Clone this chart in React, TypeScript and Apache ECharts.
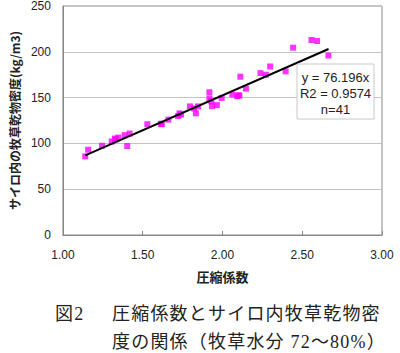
import React, { useEffect, useRef } from "react";
import * as echarts from "echarts";

const compressionFactor = [
  1.14, 1.158, 1.245, 1.306, 1.326, 1.347, 1.387, 1.418, 1.403, 1.529,
  1.614, 1.661, 1.722, 1.731, 1.796, 1.822, 1.833, 1.847, 1.918, 1.918,
  1.934, 1.965, 1.995, 2.062, 2.092, 2.106, 2.112, 2.147, 2.238, 2.272,
  2.299, 2.396, 2.443, 2.558, 2.593, 2.664, 1.33, 1.74, 1.93, 2.1, 1.62,
];
const dryMatterDensity = [
  85.8, 93.1, 97.4, 102.1, 105.3, 106.4, 109.0, 110.7, 97.1, 120.9,
  121.5, 125.9, 129.9, 132.8, 140.4, 138.2, 132.8, 140.4, 155.8, 149.0,
  140.7, 141.8, 149.7, 153.4, 151.5, 152.3, 172.8, 159.8, 176.7, 175.0,
  184.0, 178.6, 204.5, 212.9, 211.8, 195.9, 104.5, 131.5, 146.0, 152.5, 121.0,
];
const slope = 76.196;
const trendRange = [1.14, 2.665];
const statLines = ["y = 76.196x", "R2 = 0.9574", "n=41"];
const xTitle = "圧縮係数";
const yTitle = "サイロ内の牧草乾物密度(kg/m3)";
const captionLabel = "図2";
const captionLine1 = "圧縮係数とサイロ内牧草乾物密";
const captionLine2 = "度の関係（牧草水分 72～80%）";

const sans = '"Liberation Sans", Arial, "Noto Sans CJK JP", sans-serif';
const jp = '"Noto Sans CJK JP", sans-serif';
const serif = '"Liberation Serif", "Noto Sans CJK JP", serif';

export default function App() {
  const ref = useRef<HTMLDivElement>(null);
  useEffect(() => {
    if (!ref.current) return;
    const chart = echarts.init(ref.current, undefined, { renderer: "svg" });
    const points = compressionFactor.map((x, i) => [x, dryMatterDensity[i]]);
    const trend = trendRange.map((x) => [x, slope * x]);
    chart.setOption({
      animation: false,
      grid: {
        left: 53,
        top: 4,
        right: 18,
        bottom: 118,
        show: true,
        borderColor: "#888",
        borderWidth: 1,
        backgroundColor: "transparent",
      },
      xAxis: {
        type: "value",
        min: 1,
        max: 3,
        interval: 0.5,
        name: xTitle,
        nameLocation: "middle",
        nameGap: 35,
        nameTextStyle: { fontFamily: jp, fontSize: 13, fontWeight: "bold", color: "#222" },
        axisLine: { show: true, lineStyle: { color: "#888" } },
        axisTick: { show: true, inside: true, length: 4, lineStyle: { color: "#888" } },
        axisLabel: {
          fontFamily: sans,
          fontSize: 12,
          color: "#222",
          margin: 14,
          formatter: (v: number) => v.toFixed(2),
        },
        splitLine: { show: false },
      },
      yAxis: {
        type: "value",
        min: 0,
        max: 250,
        interval: 50,
        name: yTitle,
        nameLocation: "middle",
        nameRotate: 90,
        nameGap: 41,
        nameTextStyle: { fontFamily: jp, fontSize: 12, fontWeight: "bold", color: "#222" },
        axisLine: { show: true, lineStyle: { color: "#888" } },
        axisTick: { show: false },
        axisLabel: { fontFamily: sans, fontSize: 12, color: "#222", margin: 12 },
        splitLine: { show: true, lineStyle: { color: "#c4c4c4", width: 1 } },
      },
      series: [
        {
          type: "scatter",
          data: points,
          symbol: "rect",
          symbolSize: 6,
          itemStyle: { color: "#ff00ff" },
          z: 3,
        },
        {
          type: "line",
          data: trend,
          symbol: "none",
          lineStyle: { color: "#000", width: 2 },
          z: 4,
        },
      ],
      graphic: [
        {
          type: "rect",
          x: 297,
          y: 64,
          z: 100,
          shape: { x: 0, y: 0, width: 77, height: 55 },
          style: { fill: "#ffffff", stroke: "#c8c8c8", lineWidth: 1 },
        },
        ...statLines.map((t, i) => ({
          type: "text",
          x: 335.5,
          y: 77 + i * 16,
          z: 101,
          style: {
            text: t,
            fontFamily: sans,
            fontSize: 13,
            fill: "#222",
            align: "center",
            verticalAlign: "middle",
          },
        })),
      ],
    });
    return () => chart.dispose();
  }, []);

  const captionStyle: React.CSSProperties = {
    position: "absolute",
    whiteSpace: "nowrap",
    fontFamily: serif,
    fontSize: 18,
    lineHeight: "20px",
    letterSpacing: "1.2px",
    color: "#222",
  };

  return (
    <div style={{ position: "absolute", left: 0, top: 0, width: 400, height: 353, background: "#fff" }}>
      <div ref={ref} style={{ position: "absolute", left: 0, top: 0, width: 400, height: 353 }} />
      <div style={{ ...captionStyle, left: 55, top: 304 }}>{captionLabel}</div>
      <div style={{ ...captionStyle, left: 112, top: 304 }}>{captionLine1}</div>
      <div style={{ ...captionStyle, left: 112, top: 332 }}>{captionLine2}</div>
    </div>
  );
}
